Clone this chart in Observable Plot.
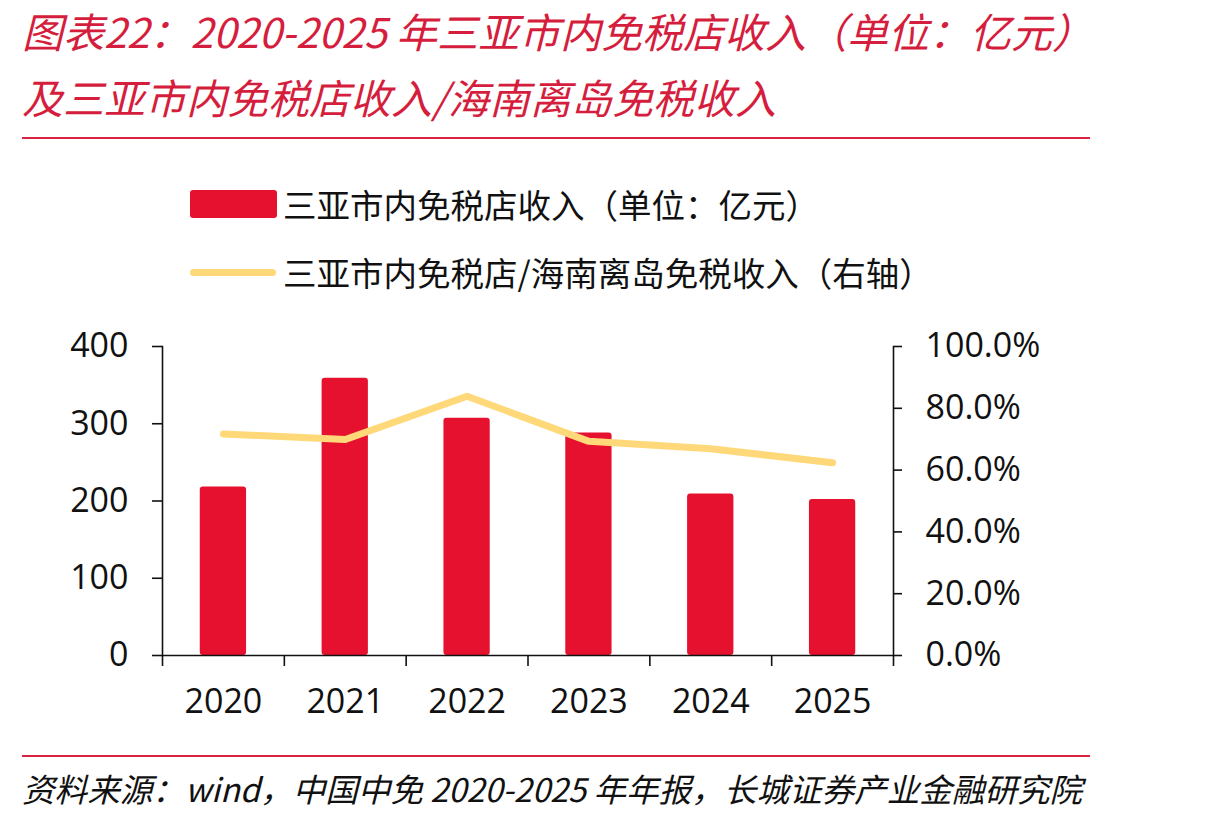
<!DOCTYPE html>
<html><head><meta charset="utf-8">
<script src="https://cdn.jsdelivr.net/npm/d3@7"></script>
<script src="https://cdn.jsdelivr.net/npm/@observablehq/plot@0.6"></script>
<style>
body{margin:0;background:#fff;}
#wrap{position:relative;width:1210px;height:821px;overflow:hidden;font-family:"Noto Sans CJK SC","Noto Sans",sans-serif;}
.t{position:absolute;left:22px;color:#D51E3D;font-style:italic;font-size:41px;line-height:60px;white-space:nowrap;}
.rule{position:absolute;left:22px;width:1068px;height:2px;background:#D9223F;}
.lg{position:absolute;left:283px;font-size:33.5px;line-height:40px;color:#111;white-space:nowrap;}
.src{position:absolute;left:22px;top:768px;font-size:32.6px;line-height:40px;font-style:italic;color:#111;white-space:nowrap;}
#chart{position:absolute;left:0;top:300px;}
</style></head>
<body><div id="wrap">
<div class="t" style="top:0px">图表22：2020-2025 年三亚市内免税店收入（单位：亿元）</div>
<div class="t" style="top:66px">及三亚市内免税店收入/海南离岛免税收入</div>
<div class="rule" style="top:137px"></div>
<div style="position:absolute;left:190px;top:190px;width:87px;height:28px;background:#E6112E;border-radius:3px"></div>
<div class="lg" style="top:184px">三亚市内免税店收入（单位：亿元）</div>
<div style="position:absolute;left:190px;top:269px;width:86px;height:7px;background:#FFD979;border-radius:4px"></div>
<div class="lg" style="top:252px">三亚市内免税店/海南离岛免税收入（右轴）</div>
<div id="chart"></div>
<div class="rule" style="top:755px"></div>
<div class="src">资料来源：wind，中国中免 2020-2025 年年报，长城证券产业金融研究院</div>
</div>
<script>
const years = [2020, 2021, 2022, 2023, 2024, 2025];
const revenue = [218, 359, 307, 288, 209, 202];
const ratio = [71.7, 69.9, 83.9, 69.3, 66.9, 62.4];
const leftTicks = [0, 100, 200, 300, 400];
const rightTicks = [0, 20, 40, 60, 80, 100];
const yearBounds = [2019.5, 2020.5, 2021.5, 2022.5, 2023.5, 2024.5, 2025.5];

const data = years.map((year, i) => ({year, revenue: revenue[i], ratio: ratio[i]}));
const k = 400 / 100; // right axis (percent) onto left scale
const half = 0.19;

const chart = Plot.plot({
  width: 1210, height: 420,
  marginLeft: 162, marginRight: 317, marginTop: 46, marginBottom: 65,
  x: {type: "linear", domain: [yearBounds[0], yearBounds[yearBounds.length - 1]]},
  y: {domain: [0, 400]},
  style: {fontFamily: "'Open Sans','Noto Sans',sans-serif", fontSize: "34px", color: "#111", background: "transparent", overflow: "visible"},
  marks: [
    Plot.rectY(data, {x1: d => d.year - half, x2: d => d.year + half, y: "revenue", fill: "#E6112E", rx: 3}),
    Plot.lineY(data, {x: "year", y: d => d.ratio * k, stroke: "#FFD979", strokeWidth: 7, strokeLinecap: "round", strokeLinejoin: "round"}),
    Plot.ruleY([0], {stroke: "#111", strokeWidth: 1.6}),
    Plot.frame({anchor: "left", stroke: "#111", strokeWidth: 1.6}),
    Plot.frame({anchor: "right", stroke: "#111", strokeWidth: 1.6}),
    Plot.axisY({anchor: "left", ticks: leftTicks, tickSize: 10, tickPadding: 24, label: null, strokeWidth: 1.6, fontSize: 34}),
    Plot.axisY({anchor: "right", ticks: rightTicks.map(d => d * k), tickFormat: d => (d / k).toFixed(1) + "%", tickSize: 8, tickPadding: 24, label: null, strokeWidth: 1.6, fontSize: 34}),
    Plot.axisX({ticks: yearBounds, tickFormat: () => "", tickSize: 11, label: null, strokeWidth: 1.6}),
    Plot.axisX({ticks: years, tickFormat: d => String(d), tickSize: 0, tickPadding: 33, label: null, fontSize: 34})
  ]
});
document.getElementById("chart").appendChild(chart);
</script>
</body></html>
